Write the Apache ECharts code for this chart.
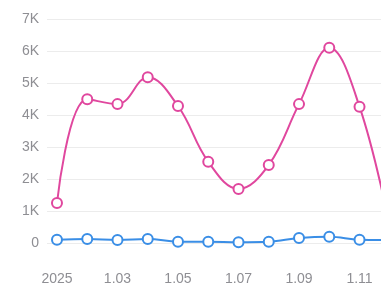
<!DOCTYPE html>
<html>
<head>
<meta charset="utf-8">
<script src="https://cdn.jsdelivr.net/npm/echarts@6/dist/echarts.min.js"></script>
<style>
  html, body { margin: 0; padding: 0; background: #fff; }
  #chart { width: 381px; height: 287px; }
</style>
</head>
<body>
<div id="chart"></div>
<script>
const categories = ["2025", "1.02", "1.03", "1.04", "1.05", "1.06", "1.07", "1.08", "1.09", "1.10", "1.11", "1.12"];
const pinkValues = [1250, 4490, 4340, 5180, 4280, 2540, 1690, 2440, 4340, 6100, 4260, 500];
const blueValues = [100, 125, 95, 125, 40, 40, 25, 40, 155, 195, 100, 90];
const yTicks = [0, 1000, 2000, 3000, 4000, 5000, 6000, 7000];
const xLabelIndexes = [0, 2, 4, 6, 8, 10];

const chart = echarts.init(document.getElementById("chart"));

function toPoints(values) {
  return values.map((v, i) => [i, v]);
}

const option = {
  animation: false,
  grid: {
    top: 19,
    bottom: 44,
    left: 47,
    right: 0,
  },
  xAxis: {
    type: "value",
    min: -0.33,
    max: 10.71,
    axisLine: { show: false },
    axisTick: { show: false },
    splitLine: { show: false },
    axisLabel: {
      customValues: xLabelIndexes,
      formatter: (v) => categories[Math.round(v)],
      color: "#8e8e93",
      fontSize: 14,
      fontFamily: "Liberation Sans, Arial, sans-serif",
      margin: 29,
    },
  },
  yAxis: {
    type: "value",
    min: yTicks[0],
    max: yTicks[yTicks.length - 1],
    interval: 1000,
    axisLine: { show: false },
    axisTick: { show: false },
    axisLabel: {
      formatter: (v) => (v === 0 ? "0" : v / 1000 + "K"),
      color: "#8e8e93",
      fontSize: 14,
      fontFamily: "Liberation Sans, Arial, sans-serif",
      margin: 8,
    },
    splitLine: {
      lineStyle: { color: "#ececec", width: 1 },
    },
  },
  series: [
    {
      type: "line",
      data: toPoints(pinkValues),
      smooth: 0.4,
      symbol: "circle",
      symbolSize: 10,
      showAllSymbol: true,
      lineStyle: { color: "#e0479e", width: 2 },
      itemStyle: { color: "#fff", borderColor: "#e0479e", borderWidth: 2 },
      z: 3,
    },
    {
      type: "line",
      data: toPoints(blueValues),
      smooth: 0.4,
      symbol: "circle",
      symbolSize: 10,
      showAllSymbol: true,
      lineStyle: { color: "#3a8ee6", width: 2 },
      itemStyle: { color: "#fff", borderColor: "#3a8ee6", borderWidth: 2 },
      z: 2,
    },
  ],
};

chart.setOption(option);
</script>
</body>
</html>
